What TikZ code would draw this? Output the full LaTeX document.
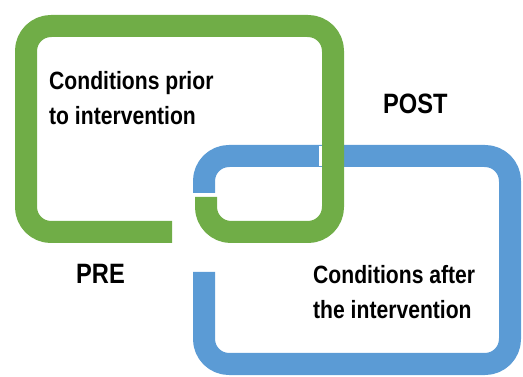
\documentclass[tikz,border=0pt]{standalone}
\usepackage{fontspec}
\usepackage{graphicx}
\setmainfont{Liberation Sans}
\definecolor{lgreen}{HTML}{70AD47}
\definecolor{lblue}{HTML}{5B9BD5}
\newcommand\sqz[1]{\scalebox{0.845}[1]{#1}}
\tikzset{
  link/.style={line width=22pt, rounded corners=25pt, line cap=butt, line join=round},
  bodytext/.style={inner sep=0pt, anchor=north west, align=left, font=\bfseries\fontsize{25}{35}\selectfont},
  tagtext/.style={inner sep=0pt, anchor=base west, font=\bfseries\fontsize{28}{32}\selectfont}
}
\begin{document}
\begin{tikzpicture}[x=1pt,y=-1pt]
\useasboundingbox (0,0) rectangle (523,377);
% blue link
\coordinate (b1) at (204,193);
\coordinate (b2) at (204,272);
\draw[link, lblue] (b1) -- (204,156) -- (510,156) -- (510,364) -- (204,364) -- (b2);
% small white gap where green crosses blue
\draw[white, line width=24pt] (331,146) -- (331,166);
% green link
\coordinate (g1) at (172,232);
\coordinate (g2) at (206,197);
\draw[link, lgreen] (g1) -- (26,232) -- (26,26) -- (333,26) -- (333,232) -- (206,232) -- (g2);
% texts
\node[bodytext] (pre text) at (49,71) {\sqz{Conditions prior}\\\sqz{to intervention}};
\node[bodytext] (post text) at (313,265) {\sqz{Conditions after}\\\sqz{the intervention}};
\node[tagtext] (post) at (383,114) {\sqz{POST}};
\node[tagtext] (pre) at (76,284) {\sqz{PRE}};
\end{tikzpicture}
\end{document}
